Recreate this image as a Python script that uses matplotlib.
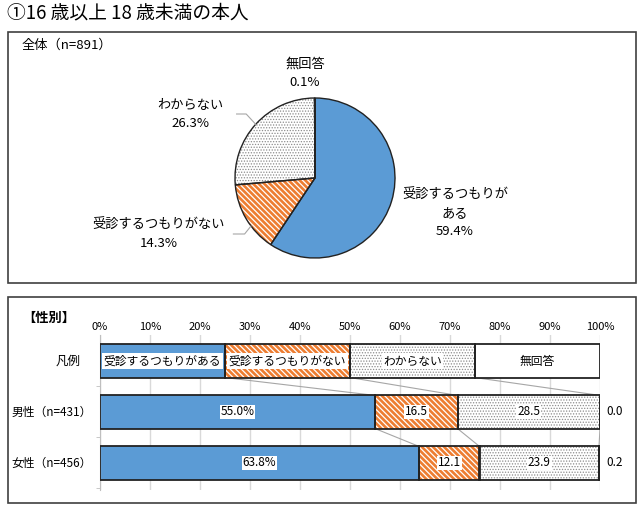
import matplotlib
matplotlib.use("Agg")
import matplotlib.pyplot as plt
from matplotlib.patches import Rectangle
import numpy as np

plt.rcParams['font.family'] = ['Noto Sans CJK JP', 'DejaVu Sans']

# ---- data ----
title = "①16 歳以上 18 歳未満の本人"
pie_title = "全体（n=891）"
categories = ["受診するつもりがある", "受診するつもりがない", "わからない", "無回答"]
pie_values = [59.4, 14.3, 26.3, 0.1]
pie_labels = ["受診するつもりが\nある\n59.4%", "受診するつもりがない\n14.3%", "わからない\n26.3%", "無回答\n0.1%"]

bar_title = "【性別】"
groups = ["男性（n=431）", "女性（n=456）"]
male = [55.0, 16.5, 28.5, 0.0]
female = [63.8, 12.1, 23.9, 0.2]
legend_row_label = "凡例"
legend_widths = [25, 25, 25, 25]
xticks = [0, 10, 20, 30, 40, 50, 60, 70, 80, 90, 100]

BLUE = '#5B9BD5'
ORANGE = '#ED7D31'
STRIPE = '\\' * 6
DOTS = '.' * 6

W, H = 641, 507
fig = plt.figure(figsize=(W / 100, H / 100), dpi=100)

def fx(px):
    return px / W

def fy(py):
    return 1 - py / H

# frames
fig.patches.append(Rectangle((fx(8), fy(283)), fx(628), 251 / H, transform=fig.transFigure,
                             fill=False, edgecolor='#404040', linewidth=1.2))
fig.patches.append(Rectangle((fx(8), fy(503)), fx(628), 206 / H, transform=fig.transFigure,
                             fill=False, edgecolor='#404040', linewidth=1.2))

fig.text(fx(7), fy(13), title, fontsize=13.5, va='center', ha='left')
fig.text(fx(22), fy(45), pie_title, fontsize=9.5, va='center', ha='left')
fig.text(fx(22), fy(318), bar_title, fontsize=9.5, va='center', ha='left', fontweight='bold')

# ---- pie ----
cx, cy, r = 315, 178, 80
pax = fig.add_axes([fx(cx - r), fy(cy + r), 2 * r / W, 2 * r / H])
pax.axis('off')

fills = [BLUE, ORANGE, 'white', 'white']
hatches = [None, STRIPE, DOTS, None]
hcols = [BLUE, 'white', '#8c8c8c', 'white']
hlws = [1.0, 0.9, 0.6, 1.0]
for i in range(4):
    with plt.rc_context({'hatch.linewidth': hlws[i]}):
        ws, _ = pax.pie(pie_values, colors=fills, startangle=90, counterclock=False,
                        radius=1, wedgeprops=dict(linewidth=0))
    for j, w in enumerate(ws):
        if j != i:
            w.remove()
        else:
            w.set_edgecolor(hcols[i])
            if hatches[i]:
                w.set_hatch(hatches[i])
pax.pie(pie_values, colors=['none'] * 4, startangle=90, counterclock=False, radius=1,
        wedgeprops=dict(linewidth=1.0, edgecolor='#222222', fill=False))
pax.set_xlim(-1, 1)
pax.set_ylim(-1, 1)
pax.set_aspect('equal')

fs = 9.5
ls = 1.5
pax.text(1.75, -0.44, pie_labels[0], ha='center', va='center', fontsize=fs, linespacing=ls)
pax.text(-1.95, -0.70, pie_labels[1], ha='center', va='center', fontsize=fs, linespacing=ls)
pax.text(-1.56, 0.80, pie_labels[2], ha='center', va='center', fontsize=fs, linespacing=ls)
pax.text(-0.125, 1.31, pie_labels[3], ha='center', va='center', fontsize=fs, linespacing=ls)
pax.plot([-1.02, -0.88, -0.80], [-0.70, -0.70, -0.60], color='#a6a6a6', lw=0.8, clip_on=False)
pax.plot([-0.98, -0.86, -0.74], [0.80, 0.80, 0.67], color='#a6a6a6', lw=0.8, clip_on=False)

# ---- bars ----
bax = fig.add_axes([fx(100), fy(490), 500 / W, 155 / H])
bax.set_xlim(0, 100)
bax.set_ylim(2.53, -0.51)
bh = 0.65

rows = [legend_widths, male, female]
for yi, vals in enumerate(rows):
    left = 0
    for k, v in enumerate(vals):
        if k == 1:
            with plt.rc_context({'hatch.linewidth': 0.9}):
                bax.barh(yi, v, left=left, height=bh, color=ORANGE, edgecolor='white',
                         hatch=STRIPE, linewidth=0, zorder=2)
        elif k == 2:
            with plt.rc_context({'hatch.linewidth': 0.6}):
                bax.barh(yi, v, left=left, height=bh, color='white', edgecolor='#8c8c8c',
                         hatch=DOTS, linewidth=0, zorder=2)
        else:
            bax.barh(yi, v, left=left, height=bh, color=fills[k], linewidth=0, zorder=2)
        bax.barh(yi, v, left=left, height=bh, fill=False, edgecolor='#222222',
                 linewidth=1.3, zorder=3)
        left += v

# legend row labels
lb = dict(facecolor='white', edgecolor='none', pad=1.0)
left = 0
for k, (v, c) in enumerate(zip(legend_widths, categories)):
    bax.text(left + v / 2, 0, c, ha='center', va='center', fontsize=8.5,
             bbox=lb if k < 3 else None, zorder=5)
    left += v

# values
vb = dict(facecolor='white', edgecolor='none', pad=0.6)
for yi, vals in zip([1, 2], [male, female]):
    left = 0
    for k, v in enumerate(vals):
        if k < 3:
            txt = f"{v:.1f}%" if k == 0 else f"{v:.1f}"
            bax.text(left + v / 2, yi, txt, ha='center', va='center', fontsize=8.5,
                     bbox=vb, zorder=5)
        else:
            bax.text(101.3, yi, f"{v:.1f}", ha='left', va='center', fontsize=8.5, zorder=5)
        left += v

# connecting lines
for (ya, a), (yb, b) in [((0, legend_widths), (1, male)), ((1, male), (2, female))]:
    ca = np.cumsum(a)
    cb = np.cumsum(b)
    for i in range(3):
        bax.plot([ca[i], cb[i]], [ya + bh / 2, yb - bh / 2], color='#a6a6a6', lw=0.8, zorder=1)

# row labels
bax.text(-3.8, 0, legend_row_label, ha='right', va='center', fontsize=9)
for yi, g in zip([1, 2], groups):
    bax.text(-1.6, yi, g, ha='right', va='center', fontsize=8.5)

bax.set_xticks(xticks)
bax.set_xticklabels([f"{t}%" for t in xticks], fontsize=8)
bax.xaxis.tick_top()
bax.tick_params(axis='x', length=0, pad=2)
bax.set_yticks([])
bax.set_yticks([0.5, 1.5, 2.5], minor=True)
bax.tick_params(axis='y', which='minor', length=3, color='#bfbfbf', labelleft=False)
bax.grid(axis='x', color='#d9d9d9', linewidth=1, zorder=0)
bax.set_axisbelow(True)
for s in ['top', 'right', 'bottom']:
    bax.spines[s].set_visible(False)
bax.spines['left'].set_color('#bfbfbf')

fig.savefig('out.png', dpi=100)
